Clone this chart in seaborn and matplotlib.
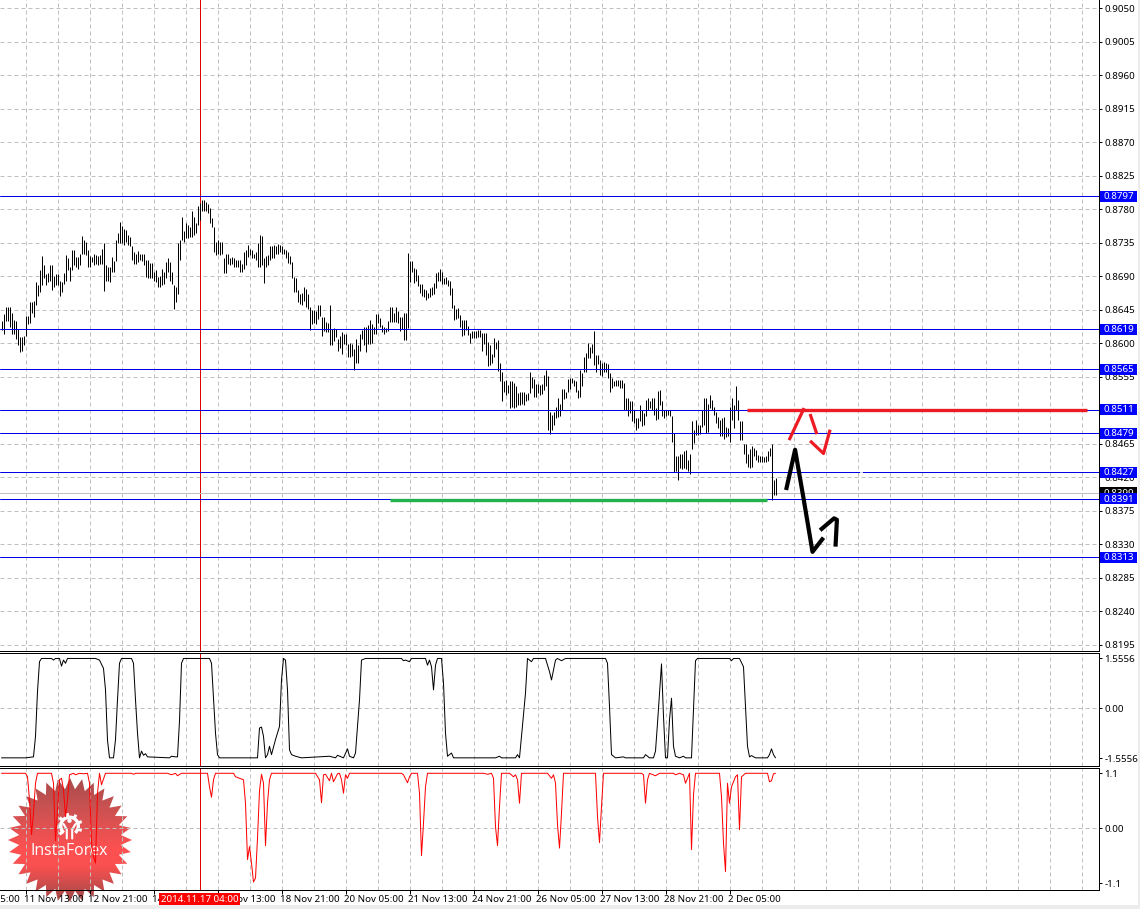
import numpy as np
import matplotlib
matplotlib.use("Agg")
import matplotlib.pyplot as plt
import seaborn as sns
from matplotlib.colors import LinearSegmentedColormap
from matplotlib.patches import Polygon, Rectangle, Wedge, Circle
from matplotlib.transforms import IdentityTransform, ScaledTranslation

# ---- data: bar highs / lows in 1e-4 price units -------------------------
bar_high = [
8630,8639,8648,8648,8648,8640,8631,8630,8619,8608,
8609,8610,8637,8637,8656,8656,8657,8682,8678,8698,
8717,8705,8693,8694,8705,8705,8690,8693,8693,8684,
8682,8694,8718,8714,8702,8725,8725,8716,8716,8720,
8744,8738,8736,8725,8717,8716,8720,8718,8717,8718,
8726,8734,8705,8703,8703,8716,8711,8739,8748,8763,
8757,8754,8752,8745,8743,8730,8723,8720,8724,8720,
8720,8720,8712,8712,8708,8708,8696,8698,8689,8690,
8700,8696,8709,8714,8709,8696,8678,8675,8734,8738,
8769,8750,8762,8759,8756,8778,8770,8761,8784,8788,
8792,8792,8790,8787,8781,8768,8756,8736,8738,8736,
8736,8714,8720,8720,8714,8716,8714,8712,8712,8712,
8707,8723,8725,8732,8727,8725,8720,8723,8734,8745,
8744,8714,8717,8718,8730,8730,8732,8730,8733,8732,
8730,8727,8725,8723,8717,8709,8689,8687,8671,8666,
8667,8675,8673,8666,8648,8645,8644,8643,8652,8652,
8635,8635,8628,8627,8651,8619,8621,8619,8606,8610,
8615,8612,8613,8599,8600,8599,8592,8606,8597,8613,
8618,8622,8622,8624,8631,8626,8622,8639,8639,8634,
8625,8622,8621,8630,8649,8648,8640,8648,8643,8635,
8635,8640,8640,8721,8710,8711,8701,8699,8692,8679,
8679,8673,8672,8668,8674,8676,8681,8694,8695,8699,
8696,8687,8689,8685,8683,8674,8652,8646,8647,8638,
8631,8631,8631,8623,8614,8617,8616,8617,8618,8618,
8614,8614,8614,8602,8598,8586,8607,8602,8605,8574,
8561,8549,8550,8544,8549,8549,8546,8543,8533,8534,
8535,8534,8532,8533,8562,8555,8552,8545,8545,8544,
8545,8558,8564,8556,8508,8504,8508,8514,8526,8519,
8538,8538,8535,8552,8554,8554,8551,8549,8537,8564,
8560,8582,8587,8600,8595,8599,8616,8584,8584,8577,
8573,8575,8574,8572,8560,8553,8549,8550,8550,8551,
8551,8546,8526,8526,8522,8522,8510,8499,8499,8517,
8510,8506,8524,8526,8522,8526,8526,8513,8536,8537,
8523,8510,8510,8511,8511,8502,8479,8448,8449,8451,
8452,8456,8457,8443,8451,8495,8484,8497,8490,8490,
8511,8526,8526,8519,8531,8524,8515,8508,8501,8497,
8499,8501,8488,8486,8515,8526,8517,8542,8524,8495,
8495,8465,8465,8452,8458,8462,8459,8457,8450,8448,
8448,8447,8448,8456,8460,8465,8417,8419]
bar_low = [
8618,8612,8630,8630,8622,8612,8612,8606,8597,8588,
8589,8598,8610,8626,8627,8640,8635,8651,8663,8669,
8678,8687,8678,8682,8684,8672,8675,8678,8678,8663,
8669,8680,8684,8698,8684,8698,8705,8702,8700,8705,
8720,8720,8718,8702,8702,8709,8705,8707,8705,8706,
8707,8670,8684,8684,8682,8696,8696,8711,8734,8734,
8734,8732,8736,8732,8730,8712,8706,8707,8709,8712,
8711,8705,8689,8688,8688,8687,8684,8682,8675,8675,
8678,8680,8687,8696,8684,8680,8646,8655,8666,8712,
8738,8736,8741,8741,8743,8743,8745,8748,8759,8766,
8777,8778,8777,8775,8762,8756,8723,8718,8720,8718,
8720,8694,8694,8707,8705,8707,8703,8702,8702,8696,
8696,8700,8705,8716,8718,8714,8714,8712,8702,8702,
8705,8681,8703,8705,8712,8714,8714,8720,8720,8723,
8720,8720,8714,8708,8707,8687,8669,8669,8655,8653,
8652,8657,8648,8646,8618,8626,8627,8626,8633,8637,
8610,8617,8615,8615,8598,8598,8603,8608,8590,8594,
8585,8599,8597,8581,8582,8583,8564,8573,8574,8590,
8606,8598,8588,8599,8599,8600,8612,8613,8627,8622,
8615,8612,8615,8617,8628,8628,8628,8628,8627,8617,
8619,8605,8604,8620,8682,8696,8681,8684,8677,8667,
8663,8662,8658,8661,8662,8665,8666,8674,8684,8684,
8679,8679,8680,8677,8665,8647,8631,8632,8634,8622,
8610,8611,8618,8611,8600,8607,8607,8607,8608,8609,
8589,8599,8584,8570,8571,8573,8582,8592,8563,8549,
8522,8535,8531,8533,8513,8515,8513,8515,8517,8517,
8519,8517,8522,8524,8533,8540,8528,8528,8533,8531,
8532,8537,8542,8484,8478,8483,8490,8499,8501,8502,
8510,8525,8527,8535,8538,8546,8542,8535,8527,8528,
8543,8562,8562,8580,8580,8587,8571,8562,8572,8558,
8556,8562,8562,8553,8534,8540,8542,8542,8542,8540,
8540,8510,8510,8502,8507,8495,8493,8484,8486,8495,
8489,8490,8502,8510,8513,8511,8504,8497,8498,8517,
8502,8499,8502,8504,8502,8468,8427,8428,8417,8432,
8431,8432,8431,8428,8425,8458,8466,8477,8477,8478,
8488,8490,8479,8481,8513,8510,8504,8493,8486,8475,
8475,8472,8474,8475,8468,8497,8486,8510,8497,8470,
8470,8452,8439,8434,8432,8434,8448,8443,8441,8441,
8440,8440,8440,8442,8448,8390,8396,8396]

# black oscillator: (bar, value)
osc_points = [
(0,-1.55),(12,-1.55),(16,-1.52),(17,-0.88),(18,0.52),(19,1.45),(20,1.55),(25,1.55),(26,1.50),
(27,1.55),(29,1.55),(30,1.31),(31,1.50),(32,1.40),(33,1.55),(47,1.55),(49,1.50),(51,1.24),
(52,0.57),(53,-1.0),(54,-1.55),(56,-1.55),(57,-0.98),(58,0.26),(59,1.40),(60,1.55),(65,1.55),
(66,1.40),(67,0.26),(68,-0.78),(69,-1.55),(70,-1.34),(71,-1.47),(72,-1.42),(73,-1.52),(84,-1.55),
(85,-1.50),(87,-1.52),(88,-1.52),(89,-0.4),(90,1.40),(91,1.55),(104,1.55),(105,1.40),(107,-0.78),
(108,-1.45),(109,-1.55),(128,-1.55),(129,-0.62),(130,-0.59),(131,-0.88),(132,-1.55),(133,-1.45),
(134,-1.19),(135,-1.45),(137,-0.98),(139,-0.57),(140,0.88),(141,1.55),(142,1.50),(143,0.57),
(144,-1.30),(145,-1.45),(147,-1.50),(150,-1.55),(164,-1.50),(167,-1.55),(168,-1.47),(171,-1.55),
(173,-1.27),(174,-1.50),(176,-1.55),(177,-1.40),(179,0.26),(180,1.50),(182,1.55),(200,1.55),
(201,1.48),(202,1.50),(204,1.45),(205,1.55),(212,1.55),(213,1.34),(214,1.50),(215,1.29),(216,0.57),
(217,1.34),(218,1.55),(220,1.55),(221,0.78),(222,-0.78),(223,-1.50),(225,-1.40),(226,-1.55),
(247,-1.55),(249,-1.50),(250,-1.55),(257,-1.55),(258,-1.45),(259,-1.55),(260,-0.88),(262,0.47),
(263,1.55),(265,1.45),(266,1.55),(272,1.55),(274,1.14),(275,0.88),(277,1.50),(278,1.55),(280,1.48),
(282,1.55),(302,1.55),(303,1.40),(304,0.05),(305,-1.45),(307,-1.55),(311,-1.52),(312,-1.55),
(321,-1.55),(322,-1.45),(324,-1.55),(326,-1.55),(327,-1.34),(328,-0.47),(330,1.38),(331,-0.26),
(332,-1.55),(333,-1.55),(334,-0.36),(335,0.31),(336,-1.19),(337,-1.50),(339,-1.55),(341,-1.50),
(342,-1.55),(345,-1.55),(346,0.0),(347,1.48),(348,1.55),(364,1.55),(365,1.48),(366,1.55),(369,1.55),
(371,1.29),(373,-1.19),(374,-1.52),(375,-1.48),(377,-1.55),(383,-1.55),(384,-1.45),(385,-1.27),
(386,-1.45),(387,-1.55)]

# red oscillator: (bar, value)
adx_points = [
(0,1.10),(12,1.10),(13,1.03),(14,0.57),(15,-0.13),(16,0.30),(17,0.90),(18,1.10),(25,1.10),(26,0.90),
(27,-0.25),(28,0.37),(29,0.97),(30,1.00),(31,0.77),(32,0.23),(33,0.57),(34,1.07),(36,1.10),(37,1.07),
(39,1.10),(41,1.09),(43,1.10),(44,0.90),(45,-0.30),(46,-0.57),(47,-0.70),(48,0.70),(49,1.10),(50,0.87),
(52,1.10),(65,1.10),(66,1.08),(67,1.10),(83,1.10),(85,1.07),(87,1.10),(88,1.05),(90,1.10),(103,1.10),
(104,0.83),(105,0.62),(106,0.97),(107,1.10),(116,1.10),(117,1.03),(121,0.97),(122,0.50),(123,-0.63),
(124,-0.37),(125,-0.70),(126,-1.08),(127,-1.0),(128,-0.2),(129,0.75),(130,1.08),(131,0.9),(132,-0.35),
(133,0.5),(134,0.97),(135,1.10),(157,1.10),(159,0.97),(160,0.51),(161,1.07),(162,1.08),(164,0.95),
(165,1.10),(166,0.93),(168,1.09),(169,1.10),(170,0.97),(171,0.70),(172,1.07),(173,1.0),(174,1.10),
(200,1.10),(201,1.07),(203,0.91),(204,1.03),(205,1.10),(208,1.10),(209,0.70),(210,-0.55),(211,0.10),
(212,0.83),(213,1.10),(241,1.10),(243,1.08),(245,1.10),(246,1.00),(247,0.03),(248,-0.35),(249,0.43),
(250,1.10),(254,1.10),(256,1.03),(257,1.07),(258,0.97),(259,0.50),(260,1.10),(273,1.10),(275,1.00),
(276,1.07),(277,0.90),(278,0.07),(279,-0.40),(280,0.30),(281,1.10),(297,1.10),(298,0.23),(299,-0.29),
(300,0.43),(301,1.10),(320,1.10),(321,1.07),(322,0.50),(323,0.97),(324,1.10),(327,1.05),(329,1.10),
(336,1.10),(337,1.07),(339,1.10),(341,1.07),(342,0.90),(344,1.10),(345,-0.43),(346,0.67),(347,1.10),
(359,1.10),(360,0.63),(361,-0.30),(362,-0.87),(363,0.90),(364,0.50),(365,0.83),(367,1.03),(368,1.07),
(369,-0.03),(370,1.03),(372,1.10),(383,1.10),(384,0.93),(385,0.95),(386,1.09),(387,1.10)]

price_ticks = [9050, 9005, 8960, 8915, 8870, 8825, 8780, 8735, 8690, 8645, 8600, 8555,
               8510, 8465, 8420, 8375, 8330, 8285, 8240, 8195]
level_prices = [8797, 8619, 8565, 8511, 8479, 8427, 8391, 8313]
last_price = 8399
green_level = (194.3, 382.5, 8389)
red_level = (372.8, 542.5, 8511)
level_gap = (429.3, 430.7, 8427)

black_strokes = [
    ([392.3, 396.8, 401, 405.5, 411], [8403, 8457, 8392, 8320, 8339]),
    ([409.3, 416.3, 417.7, 417], [8349, 8365, 8363, 8327]),
]
red_strokes = [
    ([393.8, 401.3], [8470, 8513]),
    ([404.3, 407.7], [8505, 8478]),
    ([404.3, 411, 414.3], [8469, 8452, 8484]),
]

x_tick_bars = [12, 44, 76, 108, 140, 172, 204, 236, 268, 300, 332, 364]
x_tick_labels = ["11 Nov 13:00", "12 Nov 21:00", "14 Nov 05:00", "17 Nov 13:00",
                 "18 Nov 21:00", "20 Nov 05:00", "21 Nov 13:00", "24 Nov 21:00",
                 "26 Nov 05:00", "27 Nov 13:00", "28 Nov 21:00", "2 Dec 05:00"]
first_label = (-20, "10 Nov 05:00")
grid_bars = list(range(12, 548, 16))
cursor_bar = 99
cursor_label = "2014.11.17 04:00"
osc_ticks = [1.5556, 0, -1.5556]
osc_tick_labels = ["1.5556", "0.00", "-1.5556"]
adx_ticks = [1.1, 0, -1.1]
adx_tick_labels = ["1.1", "0.00", "-1.1"]

# ---- style ---------------------------------------------------------------
sns.set_theme(style="white")
FONT = ["Noto Sans", "DejaVu Sans"]
plt.rcParams["font.family"] = FONT
FS = 7.0
W, H = 1140, 909
LW = 0.72
GRID = "#c0c0c0"
BLUE = "#0000e6"
DASH = (0, (4, 3))

fig = plt.figure(figsize=(W / 100, H / 100), dpi=100, facecolor="white")


def rect(t, b, l=0.0, r=1098.5):
    return [l / W, 1 - b / H, (r - l) / W, (b - t) / H]


# background layer: watermark badge sits beneath the chart marks
bg = fig.add_axes([0, 0, 1, 1], zorder=-1)
bg.set_xlim(0, W)
bg.set_ylim(H, 0)
bg.axis("off")
cx, cy, n = 70, 840, 32
ang = np.linspace(0, 2 * np.pi, 2 * n, endpoint=False)
rad = np.where(np.arange(2 * n) % 2 == 0, 62, 51)
poly = Polygon(np.c_[cx + rad * np.cos(ang), cy + rad * np.sin(ang)], closed=True,
               transform=bg.transData, fc="none", ec="none")
bg.add_patch(poly)
cmap = LinearSegmentedColormap.from_list("badge", [(0, "#a84c4c"), (0.25, "#cc5252"), (0.58, "#ff5050"),
                                                   (0.72, "#f85050"), (1, "#a04848")])
im = bg.imshow(np.linspace(0, 1, 128)[:, None], extent=(cx - 62, cx + 62, cy + 62, cy - 62),
               aspect="auto", cmap=cmap, origin="upper")
im.set_clip_path(poly)
bg.set_xlim(0, W)
bg.set_ylim(H, 0)
gx, gy = 69.5, 826
bg.add_patch(Wedge((gx, gy), 10.5, 130, 50, width=3.4, fc="white", ec="none"))
for a in np.deg2rad([140, 180, 220, 260, 300, 340, 20]):
    bg.plot([gx + 9.5 * np.cos(a), gx + 13 * np.cos(a)], [gy + 9.5 * np.sin(a), gy + 13 * np.sin(a)],
            color="white", lw=2.2, solid_capstyle="butt")
bg.add_patch(Circle((gx, 820.7), 2.2, fc="white", ec="none"))
bg.plot([63.5, 66.8, 66.8], [824, 829.5, 838.5], color="white", lw=1.5)
bg.plot([75.5, 72.2, 72.2], [824, 829.5, 838.5], color="white", lw=1.5)
bg.text(69.5, 851, "InstaForex", color="white", fontsize=11.4, ha="center", va="center",
        family=["Open Sans", "DejaVu Sans"])

# panels
ax1 = fig.add_axes(rect(-1, 650.5))
ax2 = fig.add_axes(rect(652.5, 765.5))
ax3 = fig.add_axes(rect(767.5, 889.5))
ylims = {
    ax1: ((9050 - (650.5 - 8) * 1.3423) / 1e4, (9050 + 9 * 1.3423) / 1e4),
    ax2: (-1.5556 - 7.5 / 32.14, 1.5556 + 5.8 / 32.14),
    ax3: (-1.1 - 6.5 / 50, 1.1 + 5.8 / 50),
}
for ax, lim in ylims.items():
    ax.set_ylim(*lim)

for ax in (ax1, ax2, ax3):
    ax.patch.set_visible(False)
    ax.set_xlim(-0.75, 548.5)
    ax.set_xticks(grid_bars, minor=True)
    ax.set_xticks(x_tick_bars)
    ax.grid(False)
    ax.grid(True, axis="x", which="both", color=GRID, lw=LW, ls=DASH, zorder=0)
    ax.set_axisbelow(True)
    ax.yaxis.tick_right()
    ax.tick_params(axis="y", which="major", direction="out", length=2.4, width=LW, pad=1.8,
                   labelsize=FS, right=True, left=False, labelcolor="black", color="black")
    ax.tick_params(axis="x", which="minor", length=0)
    for name, s in ax.spines.items():
        s.set_linewidth(LW)
        s.set_color("black")
    ax.spines["left"].set_visible(False)
    ax.axvline(cursor_bar, color="#e00000", lw=LW, zorder=1.5)

ax1.spines["top"].set_visible(False)
for ax in (ax1, ax2):
    ax.tick_params(axis="x", which="both", length=0, labelbottom=False)

# price panel
ax1.set_yticks([p / 1e4 for p in price_ticks])
ax1.set_yticklabels([f"{p / 1e4:.4f}" for p in price_ticks])
ax1.grid(True, axis="y", color=GRID, lw=LW, ls=DASH)
bars = np.arange(len(bar_high))
ax1.vlines(bars, np.array(bar_low) / 1e4, np.array(bar_high) / 1e4, color="black", lw=LW, zorder=3)
ax1.axhline(last_price / 1e4, color="#c0c0c0", lw=LW, zorder=2)
for p in level_prices:
    ax1.axhline(p / 1e4, color=BLUE, lw=LW, zorder=4)
ax1.hlines(level_gap[2] / 1e4, level_gap[0], level_gap[1], color="white", lw=1.2, zorder=4.5)


def stroke(ax, xs, ys, color, lw, z=5, cap="butt"):
    sns.lineplot(x=list(xs), y=[v / 1e4 for v in ys], ax=ax, color=color, linewidth=lw,
                 estimator=None, sort=False, legend=False, zorder=z, solid_capstyle=cap)


stroke(ax1, green_level[:2], [green_level[2]] * 2, "#22b14c", 2.4)
stroke(ax1, red_level[:2], [red_level[2]] * 2, "#ed1c24", 2.4)
for xs, ys in black_strokes:
    stroke(ax1, xs, ys, "black", 3.0, 6)
for xs, ys in red_strokes:
    stroke(ax1, xs, ys, "#ed1c24", 2.3, 6)

# oscillators
ob, ov = zip(*osc_points)
sns.lineplot(x=list(ob), y=list(ov), ax=ax2, color="black", linewidth=LW, estimator=None, sort=False,
             legend=False, zorder=3)
ab, av = zip(*adx_points)
sns.lineplot(x=list(ab), y=list(av), ax=ax3, color="#ff0000", linewidth=LW, estimator=None, sort=False,
             legend=False, zorder=3)
ax2.set_yticks(osc_ticks)
ax2.set_yticklabels(osc_tick_labels)
ax3.set_yticks(adx_ticks)
ax3.set_yticklabels(adx_tick_labels)
ax2.axhline(0, color=GRID, lw=LW, ls=DASH, zorder=1)
ax3.axhline(0, color=GRID, lw=LW, ls=DASH, zorder=1)

# bottom axis
ax3.set_xticklabels(x_tick_labels, ha="left", fontsize=FS)
ax3.tick_params(axis="x", which="major", length=2.6, width=LW, pad=1.0, labelbottom=True, bottom=True,
                color="black", labelcolor="black")
for ax, lim in ylims.items():
    ax.set_xlim(-0.75, 548.5)
    ax.set_ylim(*lim)
shift = ScaledTranslation(-1.5 / 100, 0, fig.dpi_scale_trans)
for lab in ax3.get_xticklabels():
    lab.set_transform(lab.get_transform() + shift)
ax3.annotate(first_label[1], xy=(first_label[0], 0), xycoords=ax3.get_xaxis_transform(),
             xytext=(-1, -4.0), textcoords="offset points", ha="left", va="top", fontsize=FS,
             annotation_clip=False, color="black")
ax3.annotate(cursor_label, xy=(cursor_bar, 0), xycoords=ax3.get_xaxis_transform(),
             xytext=(0, -4.0), textcoords="offset points", ha="center", va="top", fontsize=FS, color="white",
             annotation_clip=False, zorder=10,
             bbox=dict(boxstyle="square,pad=0.17", fc="#ff0000", ec="none"))
for ax in (ax1, ax2, ax3):
    ax.set_xlabel("")
    ax.set_ylabel("")

# blue / black price boxes on the right scale
identity = IdentityTransform()


def price_box(p, fc, z):
    y = ax1.transData.transform((0, p / 1e4))[1]
    fig.add_artist(Rectangle((1100, y - 5.5), 36.5, 11, fc=fc, ec="none", transform=identity, zorder=z))
    t = fig.text(1103, y - 0.3, f"{p / 1e4:.4f}", color="white", fontsize=FS, ha="left", va="center",
                 transform=identity, zorder=z + 0.1)
    return t


price_box(last_price, "black", 3)
for i, p in enumerate(level_prices):
    price_box(p, "#0000ff", 4 + i)

# window frame at the right and bottom edges
fig.add_artist(Rectangle((1138, 0), 2, H, fc="#ececec", ec="none", transform=identity, zorder=20))
fig.add_artist(Rectangle((0, 0), W, 4, fc="#ececec", ec="none", transform=identity, zorder=20))

fig.savefig("out.png", dpi=100, facecolor="white")
